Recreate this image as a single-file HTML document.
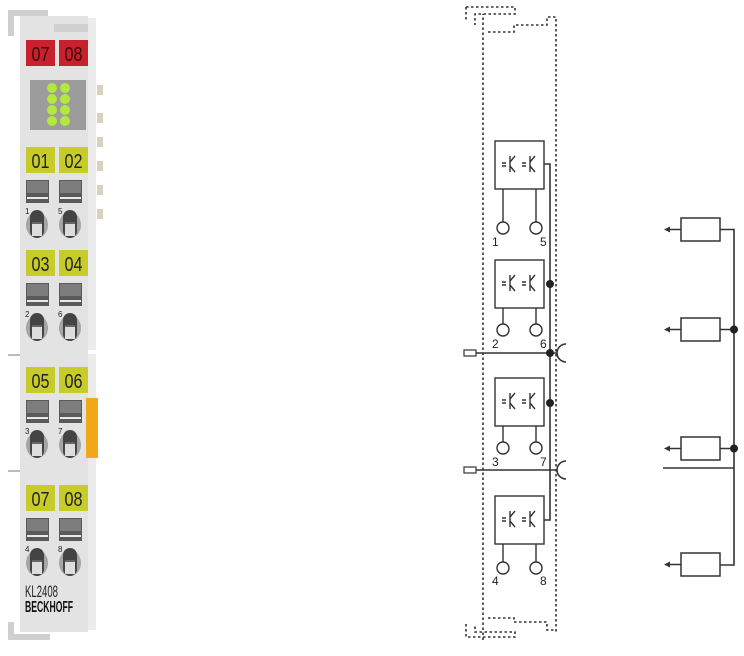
<!DOCTYPE html>
<html><head><style>html,body{margin:0;padding:0;background:#fff}svg{display:block}</style></head>
<body>
<svg width="744" height="656" viewBox="0 0 744 656" xmlns="http://www.w3.org/2000/svg" font-family="Liberation Sans, sans-serif">
<defs>
<g id="term">
 <rect x="0" y="0" width="23" height="23" fill="#5a5a5a"/>
 <rect x="1" y="1" width="21" height="12" fill="#7d7d7d"/>
 <rect x="1" y="17" width="21" height="2" fill="#e8e8e8"/>
 <ellipse cx="11" cy="45" rx="11" ry="13" fill="#a5a5a5"/>
 <rect x="4" y="30" width="14" height="28" rx="7" fill="#444"/>
 <rect x="6" y="44" width="10" height="12" fill="#ddd"/>
 <rect x="6" y="42" width="10" height="2" fill="#666"/>
</g>
<g id="sym" stroke="#333" stroke-width="1.4" fill="none">
 <path d="M7 22h4M7 25h4M15 15v16M15 21l5-6M15 25l5 6"/>
 <path d="M27 22h4M27 25h4M35 15v16M35 21l5-6M35 25l5 6"/>
</g>
<g id="box">
 <rect x="0" y="0" width="49" height="48" fill="#fff" stroke="#333" stroke-width="1.4"/>
 <use href="#sym"/>
</g>
<g id="rb">
 <rect x="0" y="0" width="39" height="23" fill="#fff" stroke="#333" stroke-width="1.5"/>
 <path d="M0 11.5h-14" stroke="#333" stroke-width="1.5"/>
 <path d="M-17 11.5l6-3v6z" fill="#333"/>
</g>
</defs>

<!-- device -->
<path d="M8 10h40v6H14v20H8z" fill="#cfcfcf"/>
<path d="M8 622h6v12h36v6H8z" fill="#cfcfcf"/>
<rect x="20" y="16" width="68" height="616" fill="#e3e3e3"/>
<rect x="54" y="24" width="34" height="8" fill="#d0d0d0"/>
<rect x="88" y="18" width="8" height="612" fill="#ececec"/>
<rect x="88" y="350" width="8" height="4" fill="#fff"/>
<rect x="8" y="354" width="12" height="2" fill="#bbb"/>
<rect x="8" y="470" width="12" height="2" fill="#bbb"/>
<g fill="#d8d2bd"><rect x="97" y="85" width="6" height="10"/><rect x="97" y="113" width="6" height="10"/><rect x="97" y="137" width="6" height="10"/><rect x="97" y="161" width="6" height="10"/><rect x="97" y="185" width="6" height="10"/><rect x="97" y="209" width="6" height="10"/></g>
<rect x="86" y="398" width="12" height="60" fill="#f0a818"/>
<rect x="26" y="40" width="29" height="26" fill="#c8202c"/><rect x="59" y="40" width="29" height="26" fill="#c8202c"/>
<g font-size="20" text-anchor="middle" fill="#3a0a0a">
<text x="40.5" y="61" textLength="18" lengthAdjust="spacingAndGlyphs">07</text>
<text x="73.5" y="61" textLength="18" lengthAdjust="spacingAndGlyphs">08</text>
</g>
<rect x="30" y="80" width="56" height="50" fill="#9c9c9c"/>
<g fill="#b4e83c"><circle cx="52" cy="88" r="5"/><circle cx="65" cy="88" r="5"/><circle cx="52" cy="99" r="5"/><circle cx="65" cy="99" r="5"/><circle cx="52" cy="110" r="5"/><circle cx="65" cy="110" r="5"/><circle cx="52" cy="121" r="5"/><circle cx="65" cy="121" r="5"/></g>
<g font-size="20" text-anchor="middle" fill="#222">
<rect x="26" y="147" width="29" height="26" fill="#c7cc2a"/><rect x="59" y="147" width="29" height="26" fill="#c7cc2a"/>
<text x="40.5" y="168" textLength="18" lengthAdjust="spacingAndGlyphs">01</text><text x="73.5" y="168" textLength="18" lengthAdjust="spacingAndGlyphs">02</text>
<rect x="26" y="250" width="29" height="26" fill="#c7cc2a"/><rect x="59" y="250" width="29" height="26" fill="#c7cc2a"/>
<text x="40.5" y="271" textLength="18" lengthAdjust="spacingAndGlyphs">03</text><text x="73.5" y="271" textLength="18" lengthAdjust="spacingAndGlyphs">04</text>
<rect x="26" y="367" width="29" height="26" fill="#c7cc2a"/><rect x="59" y="367" width="29" height="26" fill="#c7cc2a"/>
<text x="40.5" y="388" textLength="18" lengthAdjust="spacingAndGlyphs">05</text><text x="73.5" y="388" textLength="18" lengthAdjust="spacingAndGlyphs">06</text>
<rect x="26" y="485" width="29" height="26" fill="#c7cc2a"/><rect x="59" y="485" width="29" height="26" fill="#c7cc2a"/>
<text x="40.5" y="506" textLength="18" lengthAdjust="spacingAndGlyphs">07</text><text x="73.5" y="506" textLength="18" lengthAdjust="spacingAndGlyphs">08</text>
</g>
<use href="#term" x="26" y="180"/><use href="#term" x="59" y="180"/>
<use href="#term" x="26" y="283"/><use href="#term" x="59" y="283"/>
<use href="#term" x="26" y="400"/><use href="#term" x="59" y="400"/>
<use href="#term" x="26" y="518"/><use href="#term" x="59" y="518"/>
<g font-size="8" fill="#222"><text x="25" y="214">1</text><text x="58" y="214">5</text><text x="25" y="317">2</text><text x="58" y="317">6</text><text x="25" y="434">3</text><text x="58" y="434">7</text><text x="25" y="552">4</text><text x="58" y="552">8</text></g>
<text x="25" y="597" font-size="17" fill="#222" textLength="33" lengthAdjust="spacingAndGlyphs">KL2408</text>
<text x="25" y="612" font-size="16" font-weight="bold" fill="#111" textLength="48" lengthAdjust="spacingAndGlyphs">BECKHOFF</text>

<!-- dotted frame -->
<g stroke="#333" stroke-width="1.6" stroke-dasharray="2.5,2.5" fill="none">
<path d="M483 640V14"/>
<path d="M466 7H515V14H475V25"/>
<path d="M466 7V22"/>
<path d="M488 32H514V25H547V17H556V633"/>
<path d="M488 618H514V622H547V630H556"/>
<path d="M466 624V637H515V632H475V624"/>
</g>

<use href="#box" x="495" y="141"/>
<use href="#box" x="495" y="260"/>
<use href="#box" x="495" y="378"/>
<use href="#box" x="495" y="496"/>
<g stroke="#333" stroke-width="1.4" fill="#fff">
<path d="M503 189v33M536 189v33M503 308v16M536 308v16M503 426v16M536 426v16M503 544v18M536 544v18"/>
<circle cx="503" cy="228" r="6"/><circle cx="536" cy="228" r="6"/>
<circle cx="503" cy="330" r="6"/><circle cx="536" cy="330" r="6"/>
<circle cx="503" cy="448" r="6"/><circle cx="536" cy="448" r="6"/>
<circle cx="503" cy="568" r="6"/><circle cx="536" cy="568" r="6"/>
</g>
<g font-size="12" fill="#222">
<text x="492" y="246">1</text><text x="540" y="246">5</text>
<text x="492" y="348">2</text><text x="540" y="348">6</text>
<text x="492" y="466">3</text><text x="540" y="466">7</text>
<text x="492" y="585">4</text><text x="540" y="585">8</text>
</g>
<g stroke="#333" stroke-width="1.6" fill="none">
<path d="M544 164H550V520H544"/>
<path d="M476 353H557M476 470H557"/>
<path d="M566 344A9 9 0 0 0 566 362"/>
<path d="M566 461A9 9 0 0 0 566 479"/>
<rect x="464" y="350" width="12" height="6" stroke-width="1.2"/>
<rect x="464" y="467" width="12" height="6" stroke-width="1.2"/>
</g>
<g fill="#222"><circle cx="550" cy="284" r="4"/><circle cx="550" cy="353" r="4"/><circle cx="550" cy="403" r="4"/></g>

<!-- right side -->
<use href="#rb" x="681" y="218"/>
<use href="#rb" x="681" y="318"/>
<use href="#rb" x="681" y="437"/>
<use href="#rb" x="681" y="553"/>
<g stroke="#333" stroke-width="1.6" fill="none">
<path d="M720 229.5H734V565H720M720 329.5H734M720 448.5H734M663 468H734"/>
</g>
<g fill="#222"><circle cx="734" cy="329.5" r="4"/><circle cx="734" cy="448.5" r="4"/></g>
</svg>
</body></html>
